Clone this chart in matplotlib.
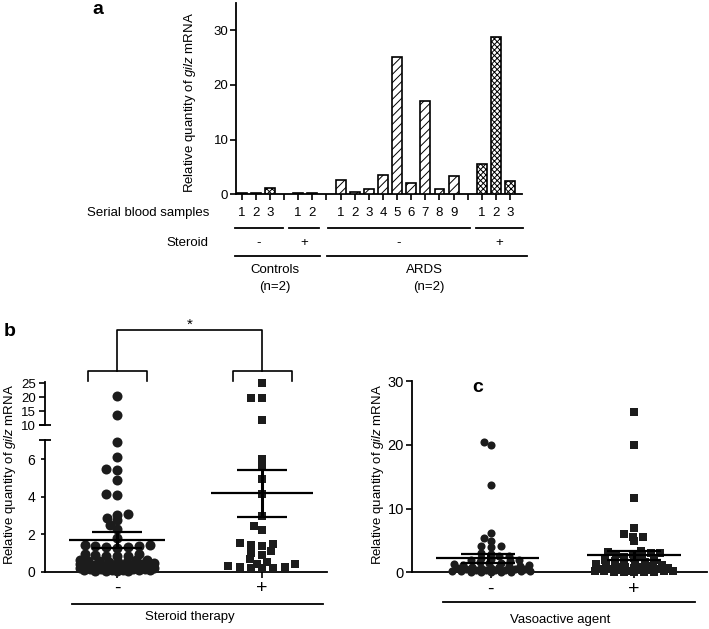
import numpy as np
import matplotlib
matplotlib.use('Agg')
import matplotlib.pyplot as plt
from matplotlib.transforms import blended_transform_factory as blend

# ---------------- data ----------------
# panel a : relative quantity of gilz mRNA in serial blood samples
a_samples_ctrl_neg = ['1', '2', '3']
a_samples_ctrl_pos = ['1', '2']
a_samples_ards_neg = ['1', '2', '3', '4', '5', '6', '7', '8', '9']
a_samples_ards_pos = ['1', '2', '3']
a_ctrl_neg = [0.25, 0.3, 1.1]
a_ctrl_pos = [0.3, 0.2]
a_ards_neg = [2.55, 0.5, 1.0, 3.6, 25.1, 2.1, 17.0, 1.0, 3.35]
a_ards_pos = [5.5, 28.7, 2.45]
a_steroid = ['-', '+', '-', '+']
a_yticks = [0, 10, 20, 30]

# panel b : steroid therapy
b_categories = ['-', '+']
b_neg = [20.3, 13.5, 6.9, 6.1, 5.5, 5.45, 4.9, 4.15, 4.1, 3.1, 3.05, 2.85, 2.75, 2.5, 2.3, 1.8,
         1.45, 1.4, 1.38, 1.35, 1.32, 1.3, 1.28,
         0.95, 0.92, 0.88, 0.85, 0.85, 0.82,
         0.65, 0.62, 0.6, 0.58, 0.55, 0.52, 0.5, 0.5,
         0.45, 0.42, 0.4, 0.38, 0.35, 0.35, 0.33, 0.3, 0.3, 0.28,
         0.25, 0.22, 0.2, 0.2, 0.18, 0.18, 0.15, 0.15, 0.15, 0.12, 0.12, 0.1, 0.1, 0.1,
         0.08, 0.08, 0.06, 0.05, 0.05, 0.03]
b_pos = [25.0, 19.8, 19.8, 11.8, 5.99, 5.64, 4.92, 4.12, 2.97, 2.44, 2.22, 1.48, 1.37, 1.55,
         1.42, 0.98, 0.89, 1.10, 0.66, 0.39, 0.27, 0.53, 0.39, 0.27, 0.30, 0.21, 0.18, 0.18]
b_mean = [1.69, 4.18]
b_sem = [0.41, 1.265]
b_low_ticks = [0, 2, 4, 6]
b_high_ticks = [10, 15, 20, 25]

# panel c : vasoactive agent
c_categories = ['-', '+']
c_neg = [20.5, 20.0, 13.7, 6.1, 5.45, 4.9, 4.1, 4.0, 4.1, 3.1, 2.9,
         2.6, 2.5, 2.3, 2.1, 2.0, 1.9, 1.7, 1.6, 1.5, 1.4, 1.3, 1.2, 1.1, 1.0, 0.95, 0.9,
         0.8, 0.75, 0.7, 0.6, 0.55, 0.5, 0.45, 0.4, 0.35, 0.3, 0.3, 0.25, 0.2, 0.2, 0.15,
         0.12, 0.1, 0.08, 0.05, 0.03]
c_pos = [25.1, 20.0, 11.7, 6.9, 6.0, 5.6, 5.6, 4.9,
         3.3, 3.2, 3.1, 3.0, 2.9, 2.8, 2.6, 2.4, 2.2, 2.0, 1.9, 1.8, 1.6, 1.5, 1.4, 1.3,
         1.2, 1.1, 1.0, 0.9, 0.85, 0.8, 0.7, 0.6, 0.55, 0.5, 0.45, 0.4, 0.35, 0.3, 0.28,
         0.25, 0.2, 0.18, 0.15, 0.12, 0.1, 0.08, 0.05, 0.03]
c_mean = [2.20, 2.67]
c_sem = [0.68, 0.68]
c_yticks = [0, 10, 20, 30]

YLABEL = r'Relative quantity of $\it{gilz}$ mRNA'

# ---------------- style ----------------
plt.rcParams['font.family'] = ['Liberation Sans', 'DejaVu Sans']
plt.rcParams['mathtext.fontset'] = 'custom'
plt.rcParams['mathtext.rm'] = 'Liberation Sans'
plt.rcParams['mathtext.it'] = 'Liberation Sans:italic'
plt.rcParams['hatch.linewidth'] = 0.7
plt.rcParams['axes.linewidth'] = 1.3

W, H = 709, 629
fig = plt.figure(figsize=(W / 100, H / 100), dpi=100)
DARK = '#1c1c1c'
FS = 9.5


def px_rect(x0, y0, x1, y1):
    return [x0 / W, 1 - y1 / H, (x1 - x0) / W, (y1 - y0) / H]


def clean(ax):
    for s in ['top', 'right']:
        ax.spines[s].set_visible(False)


def swarm(ax, xc, vals, sx, sy, maxw):
    """Greedy beeswarm in pixel space with a maximum half-width (overlap when crowded)."""
    vals = np.asarray(vals, float)
    disp = ax.transData.transform(np.column_stack([np.full(len(vals), xc), vals]))
    x0 = disp[0, 0]
    order = np.argsort(vals, kind='stable')
    px, py = [], []
    xs = np.zeros(len(vals))
    grid = x0 + np.arange(-maxw, maxw + 0.01, 0.5)
    for i in order:
        y = disp[i, 1]
        chosen = None
        if not px:
            chosen = x0
        else:
            PX = np.array(px)
            PY = np.array(py)
            cands = [x0]
            for qx, qy in zip(px, py):
                dy = abs(qy - y)
                if dy < sy:
                    dx = sx * np.sqrt(1 - (dy / sy) ** 2)
                    cands.extend([qx - dx, qx + dx])
            cands = [c for c in cands if abs(c - x0) <= maxw + 1e-6]
            cands.sort(key=lambda c: (round(abs(c - x0), 6), c))
            for c in cands:
                if np.all(((c - PX) / sx) ** 2 + ((y - PY) / sy) ** 2 >= 1 - 1e-9):
                    chosen = c
                    break
            if chosen is None:
                d = np.min(((grid[:, None] - PX[None, :]) / sx) ** 2 +
                           ((y - PY[None, :]) / sy) ** 2, axis=1)
                chosen = grid[np.argmax(d - 1e-4 * np.abs(grid - x0))]
        px.append(chosen)
        py.append(y)
        xs[i] = chosen
    back = ax.transData.inverted().transform(np.column_stack([xs, disp[:, 1]]))
    return back[:, 0]


def mean_sem(ax, xc, m, s, hw_mean, hw_sem):
    ax.hlines(m, xc - hw_mean, xc + hw_mean, color='k', lw=1.6, zorder=5)
    ax.hlines([m - s, m + s], xc - hw_sem, xc + hw_sem, color='k', lw=1.6, zorder=5)
    ax.vlines(xc, m - s, m + s, color='k', lw=2.2, zorder=5)


# ================= panel a =================
axA = fig.add_axes(px_rect(236, 3, 521.7, 194.3))
clean(axA)
groups = [a_ctrl_neg, a_ctrl_pos, a_ards_neg, a_ards_pos]
labels = [a_samples_ctrl_neg, a_samples_ctrl_pos, a_samples_ards_neg, a_samples_ards_pos]
hatches = ['xxxxxx', '', '////', 'xxxxxx']
tA = blend(axA.transData, axA.transAxes)
ya = lambda ypx: (194.3 - ypx) / 191.3
pos = 0
spans = []
for vals, labs, h in zip(groups, labels, hatches):
    xs = np.arange(pos, pos + len(vals))
    axA.bar(xs, vals, width=0.7, color='white', edgecolor='black', hatch=h, linewidth=1.2, zorder=3)
    for x, l in zip(xs, labs):
        axA.text(x, ya(213), l, transform=tA, ha='center', va='center', fontsize=FS)
    spans.append((xs[0], xs[-1]))
    pos += len(vals) + 1
axA.set_xlim(-0.4, 19.82)
axA.set_ylim(0, 35)
axA.set_xticks(np.arange(0, pos - 1))
axA.set_xticklabels([])
axA.set_yticks(a_yticks)
axA.tick_params(axis='y', length=4, width=1.2, labelsize=FS, pad=1.5)
axA.tick_params(axis='x', length=4, width=1.2)
axA.set_ylabel(YLABEL, fontsize=FS)
axA.yaxis.set_label_coords((198 - 236) / 285.7, ya(103))

axA.text(-2.3, ya(213), 'Serial blood samples', transform=tA, ha='right', va='center', fontsize=FS)
axA.text(-2.38, ya(243), 'Steroid', transform=tA, ha='right', va='center', fontsize=FS)
line1_ext = [(-0.47, 0.92), (-0.65, 0.47), (-0.9, 1.16), (-0.42, 0.9)]
for (s, e), (l, r), sg in zip(spans, line1_ext, a_steroid):
    axA.plot([s + l, e + r], [ya(228)] * 2, transform=tA, color='k', lw=1.3, clip_on=False)
    axA.text((s + l + e + r) / 2, ya(243), sg, transform=tA, ha='center', va='center', fontsize=FS)
axA.plot([spans[0][0] - 0.47, spans[1][1] + 0.54], [ya(256)] * 2, transform=tA, color='k', lw=1.3, clip_on=False)
axA.plot([spans[2][0] - 0.95, spans[3][1] + 1.2], [ya(256)] * 2, transform=tA, color='k', lw=1.3, clip_on=False)
axA.text(2.36, ya(270), 'Controls', transform=tA, ha='center', va='center', fontsize=FS)
axA.text(2.36, ya(287), '(n=2)', transform=tA, ha='center', va='center', fontsize=FS)
axA.text(12.97, ya(270), 'ARDS', transform=tA, ha='center', va='center', fontsize=FS)
axA.text(13.26, ya(287), '(n=2)', transform=tA, ha='center', va='center', fontsize=FS)

# ================= panel b =================
axB = fig.add_axes(px_rect(45, 440.45, 327, 571.7))
axBu = fig.add_axes(px_rect(45, 381.9, 327, 425))
for ax in (axB, axBu):
    clean(ax)
    ax.set_xlim(-0.497, 1.448)
    ax.patch.set_alpha(0)
axB.set_ylim(0, 7)
axBu.set_ylim(10, 25.5)
axBu.spines['bottom'].set_visible(False)
axBu.set_xticks([])
axBu.set_yticks(b_high_ticks)
axBu.tick_params(axis='y', length=4, width=1.2, labelsize=FS, pad=2.5)
axB.set_yticks(b_low_ticks)
axB.tick_params(axis='y', length=3, width=1.2, labelsize=FS + 0.5, pad=4)
axB.set_xticks([0, 1])
axB.set_xticklabels(b_categories, fontsize=14)
axB.tick_params(axis='x', length=4, width=1.2, pad=2)
axB.plot([0], [1], marker='_', markersize=8, mew=1.3, color='k', transform=axB.transAxes, clip_on=False)
axBu.plot([0], [0], marker='_', markersize=8, mew=1.3, color='k', transform=axBu.transAxes, clip_on=False)

markers = ['o', 's']
for i, vals in enumerate([b_neg, b_pos]):
    v = np.asarray(vals)
    lo = v[v <= 7]
    hi = v[v > 7]
    mk = markers[i]
    sz = 52 if mk == 'o' else 36
    if mk == 'o':
        xl = swarm(axB, i, lo, 11.0, 5.0, 37)
    else:
        xl = swarm(axB, i, lo, 11.5, 6.0, 36)
    axB.scatter(xl, lo, marker=mk, s=sz, color=DARK, linewidths=0, clip_on=False, zorder=3)
    xh = swarm(axBu, i, hi, 11.5, 11.5, 40)
    axBu.scatter(xh, hi, marker=mk, s=sz, color=DARK, linewidths=0, clip_on=False, zorder=3)
mean_sem(axB, 0, b_mean[0], b_sem[0], 0.331, 0.172)
mean_sem(axB, 1, b_mean[1], b_sem[1], 0.35, 0.17)

kb = dict(color='k', lw=1.2, clip_on=False)
for xc in (0, 1):
    axBu.plot([xc - 0.2, xc - 0.2, xc + 0.205, xc + 0.205], [25.9, 29.5, 29.5, 25.9], **kb)
axBu.plot([0, 0, 1, 1], [29.5, 44.2, 44.2, 29.5], **kb)
axBu.text(0.5, 44.6, '*', ha='center', va='baseline', fontsize=11, clip_on=False)

axB.plot([0.096, 0.986], [-0.244, -0.244], transform=axB.transAxes, color='k', lw=1.3, clip_on=False)
axB.text(0.514, -0.345, 'Steroid therapy', transform=axB.transAxes, ha='center', va='center', fontsize=FS)
fig.text(10 / W, 1 - 475 / H, YLABEL, rotation=90, ha='center', va='center', fontsize=FS)

# ================= panel c =================
axC = fig.add_axes(px_rect(411.7, 381.3, 706.7, 572.3))
clean(axC)
axC.patch.set_alpha(0)
axC.set_xlim(-0.551, 1.507)
axC.set_ylim(0, 30)
axC.set_yticks(c_yticks)
axC.tick_params(axis='y', length=4, width=1.2, labelsize=FS + 1, pad=1.5)
axC.set_xticks([0, 1])
axC.set_xticklabels(c_categories, fontsize=14)
axC.tick_params(axis='x', length=4, width=1.2, pad=2)
for i, vals in enumerate([c_neg, c_pos]):
    v = np.asarray(vals)
    mk = markers[i]
    sz = 34 if mk == 'o' else 28
    xs = swarm(axC, i, v, 10.0, 4.5, 39)
    axC.scatter(xs, v, marker=mk, s=sz, color=DARK, linewidths=0, clip_on=False, zorder=3)
mean_sem(axC, -0.02, c_mean[0], c_sem[0], 0.36, 0.19)
mean_sem(axC, 1.0, c_mean[1], c_sem[1], 0.325, 0.19)
axC.plot([0.107, 0.960], [-0.154, -0.154], transform=axC.transAxes, color='k', lw=1.3, clip_on=False)
axC.text(0.505, -0.25, 'Vasoactive agent', transform=axC.transAxes, ha='center', va='center', fontsize=FS)
fig.text(378 / W, 1 - 475 / H, YLABEL, rotation=90, ha='center', va='center', fontsize=FS)

fig.text(98 / W, 1 - 10 / H, 'a', fontsize=14, fontweight='bold', ha='center', va='center')
fig.text(10 / W, 1 - 332 / H, 'b', fontsize=14, fontweight='bold', ha='center', va='center')
fig.text(478 / W, 1 - 388 / H, 'c', fontsize=14, fontweight='bold', ha='center', va='center')

fig.savefig('out.png', dpi=100)
